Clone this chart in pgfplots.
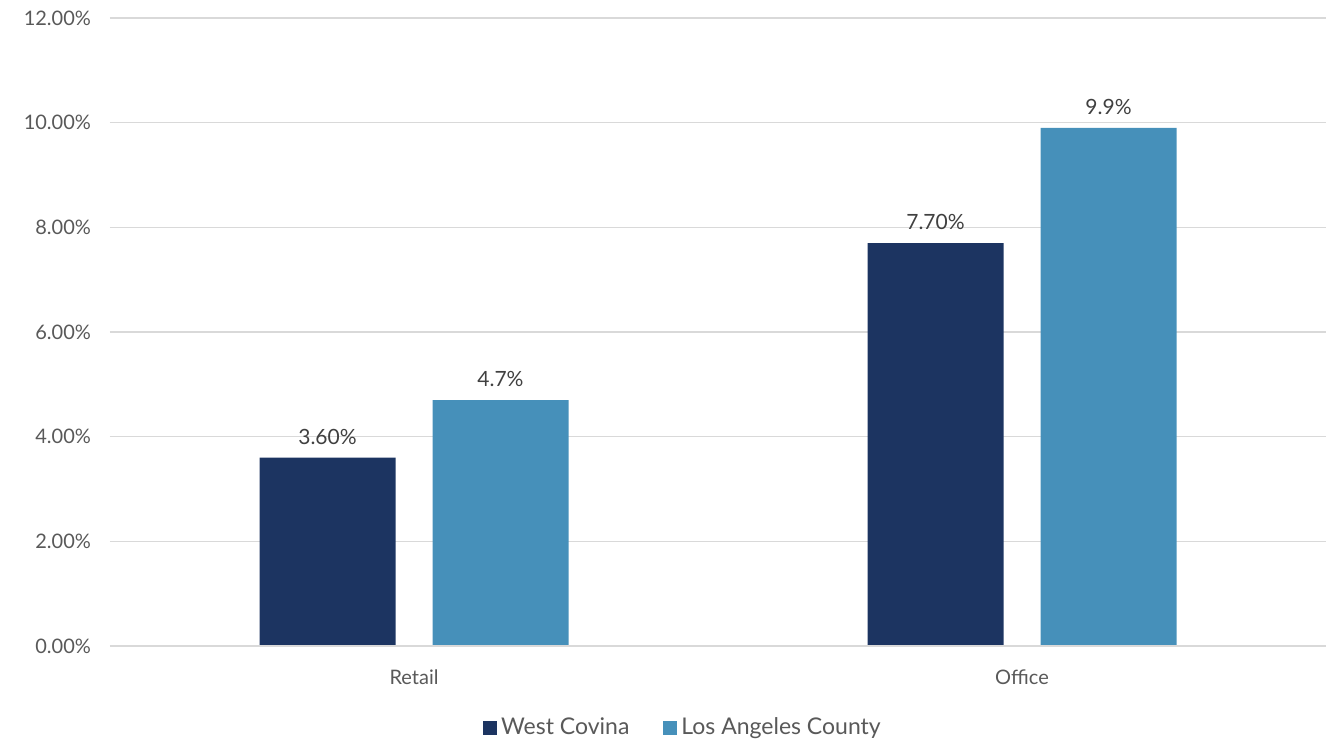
\documentclass[border=0pt]{standalone}
\usepackage{fontspec}
\setmainfont{Lato}
\usepackage{pgfplots}
\pgfplotsset{compat=1.18}

\definecolor{navy}{HTML}{1C3461}
\definecolor{lblue}{HTML}{4690BA}
\definecolor{gridc}{HTML}{D9D9D9}
\definecolor{txt}{HTML}{595959}
\definecolor{lab}{HTML}{404040}

\begin{document}
\begin{tikzpicture}
\begin{axis}[
  scale only axis,
  width=608pt, height=314pt,
  ybar,
  xmin=-0.5, xmax=1.5,
  ymin=0, ymax=12,
  xtick={0,1},
  xticklabels={Retail, Office},
  ytick={0,2,...,12},
  yticklabel={\pgfmathprintnumber[fixed,fixed zerofill,precision=2]{\tick}\%},
  /pgf/number format/assume math mode=true,
  ymajorgrids,
  grid style={gridc, line width=0.6pt},
  axis x line*=bottom,
  axis y line*=left,
  x axis line style={draw=none},
  y axis line style={draw=none},
  major tick length=0pt,
  tick label style={font=\fontsize{10}{12}\selectfont, text=txt},
  yticklabel style={xshift=-6pt},
  xticklabel style={yshift=-8.5pt},
  bar width=68pt,
  nodes near coords,
  point meta=explicit symbolic,
  every node near coord/.append style={font=\fontsize{10.5}{12}\selectfont, text=lab, yshift=3pt},
  legend style={at={(0.472,-0.13)}, anchor=center, draw=none, legend columns=2,
    font=\fontsize{11.5}{12}\selectfont, text=txt,
    /tikz/every even column/.append style={column sep=15pt}},
  legend image code/.code={\fill[#1] (0pt,-3.5pt) rectangle (7pt,3.5pt);},
  legend cell align=left,
  clip=false,
]
\addplot[fill=navy, draw=none, bar shift=-43.25pt] coordinates {(0,3.6) [3.60\%] (1,7.7) [7.70\%]};
\addplot[fill=lblue, draw=none, bar shift=43.25pt] coordinates {(0,4.7) [4.7\%] (1,9.9) [9.9\%]};
\draw[gridc, line width=0.8pt] (rel axis cs:0,0) -- (rel axis cs:1,0);
\legend{West Covina, Los Angeles County}
\coordinate (bl) at (rel axis cs:0,0);
\coordinate (tr) at (rel axis cs:1,1);
\end{axis}
\pgfresetboundingbox
\path ([xshift=-55pt,yshift=-48pt]bl) rectangle ([xshift=5pt,yshift=9pt]tr);
\end{tikzpicture}
\end{document}
